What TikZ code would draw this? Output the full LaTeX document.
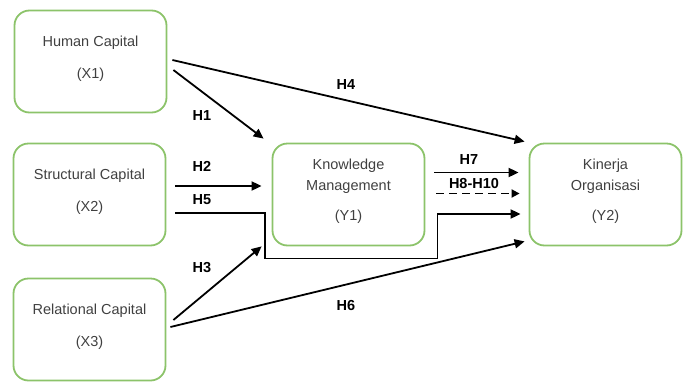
\documentclass[tikz,border=0pt]{standalone}
\usepackage{fontspec}
\setmainfont{Liberation Sans}
\usepackage{xcolor}
\usepackage{tikz}
\usetikzlibrary{arrows.meta}
\usetikzlibrary{calc}
\usetikzlibrary{positioning}
\definecolor{boxgreen}{HTML}{8CC36A}
\definecolor{boxtext}{HTML}{404040}
\newcommand{\vartext}[1]{\raisebox{0pt}[\height][\dimexpr\depth+7pt\relax]{\begin{tabular}{@{}c@{}}#1\end{tabular}}}

\begin{document}
\begin{tikzpicture}[x=1pt,y=-1pt,line join=miter]
				\tikzstyle{var}=[draw=boxgreen, line width=1.8pt, rounded corners=15pt, minimum width=152pt, minimum height=102pt, text=boxtext, font=\fontsize{14.5}{21}\selectfont]
				\tikzstyle{hyp}=[font=\fontsize{14.5}{17}\selectfont\bfseries, inner sep=1pt]
				\tikzstyle{arr}=[line width=1.8pt, -{Triangle[length=10pt,width=9pt]}]
				\useasboundingbox (0,0) rectangle (689,381);
						\node[var] (X1) at (90.5,61.5) {\vartext{Human Capital\\[11pt](X1)}};
						\node[var] (X2) at (89.5,194.5) {\vartext{Structural Capital\\[11pt](X2)}};
						\node[var] (X3) at (89.5,329.5) {\vartext{Relational Capital\\[11pt](X3)}};
						\node[var] (Y1) at (348.5,194.5) {\vartext{Knowledge\\Management\\[9pt](Y1)}};
						\node[var] (Y2) at (605.5,194.5) {\vartext{Kinerja\\Organisasi\\[9pt](Y2)}};

						\node[hyp] (h1) at (202,116) {H1};
						\node[hyp] (h2) at (202,166) {H2};
						\node[hyp] (h5) at (202,200) {H5};
						\node[hyp] (h3) at (202,268) {H3};
						\node[hyp] (h4) at (346,85) {H4};
						\node[hyp] (h6) at (346,306) {H6};
						\node[hyp] (h7) at (469,160) {H7};
						\node[hyp] (h8) at (474,184) {H8-H10};

						\draw[arr] ($(X1.east)+(5,-1.5)$) -- ($(Y2.north west)+(-4,-1)$);
						\draw[arr] ($(X1.east)+(6,8.5)$) -- ($(Y1.north west)+(-8,-4)$);
						\draw[arr] ($(X2.east)+(9,-8.5)$) -- ($(Y1.west)+(-10,-8.5)$);
						\draw[arr] ($(X2.east)+(9,18.5)$) -| ($(Y1.south west)+(-7,12)$) -- ($(Y1.south east)+(12,12)$) |- ($(Y2.west)+(-8,19.5)$);
						\draw[arr] ($(X3.east)+(7,-9.5)$) -- ($(Y1.south west)+(-10,0)$);
						\draw[arr] ($(X3.east)+(4,-2.5)$) -- ($(Y2.south west)+(-4,-5)$);
						\draw[arr] ($(Y1.east)+(9,-22)$) -- ($(Y2.west)+(-10,-22)$);
						\draw[line width=1.8pt, dash pattern=on 8pt off 5pt, -{Triangle[length=8pt,width=8pt]}] ($(Y1.east)+(11,-1)$) -- ($(Y2.west)+(-9,-1)$);
\end{tikzpicture}
\end{document}
